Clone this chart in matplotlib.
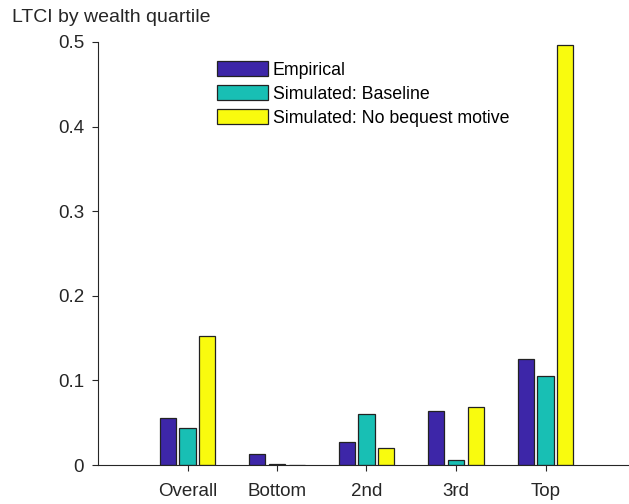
import matplotlib
matplotlib.use("Agg")
import matplotlib.pyplot as plt
import numpy as np
from matplotlib.ticker import FormatStrFormatter

plt.rcParams['font.family'] = ['Liberation Sans', 'DejaVu Sans']

# data
groups = ['Overall', 'Bottom', '2nd', '3rd', 'Top']
empirical = [0.056, 0.0126, 0.0268, 0.0634, 0.125]
baseline = [0.0434, 0.001, 0.0603, 0.0059, 0.1048]
no_bequest = [0.153, 0.0005, 0.0205, 0.069, 0.497]
series = ['Empirical', 'Simulated: Baseline', 'Simulated: No bequest motive']
colors = ['#3D26A8', '#18BFB4', '#F9FB0E']

fig = plt.figure(figsize=(6.29, 5.04), dpi=100)
ax = fig.add_axes([98 / 629, 39 / 504, 531 / 629, 423 / 504])

x = np.arange(1, len(groups) + 1)
width = 0.18
offset = 0.22
for i, (vals, lab, col) in enumerate(zip([empirical, baseline, no_bequest], series, colors)):
    ax.bar(x + (i - 1) * offset, vals, width, color=col, edgecolor='#222222',
           linewidth=0.9, label=lab)

ax.set_xlim(0, 531 / 89.5)
ax.set_ylim(0, 0.5)
ax.set_xticks(x)
ax.set_xticklabels(groups)
ax.set_yticks(np.arange(0, 0.51, 0.1))
ax.yaxis.set_major_formatter(FormatStrFormatter('%g'))
ax.tick_params(direction='out', length=4, width=0.8, labelsize=13.5, colors='#262626', pad=6)
ax.tick_params(axis='x', pad=9)
for s in ['top', 'right']:
    ax.spines[s].set_visible(False)
for s in ['left', 'bottom']:
    ax.spines[s].set_color('#262626')
    ax.spines[s].set_linewidth(0.8)

fig.text(12 / 629, 1 - 18 / 504, 'LTCI by wealth quartile', fontsize=14,
         ha='left', va='center', color='#262626')

ax.legend(loc='upper left', bbox_to_anchor=(217 / 629, 1 - 61 / 504),
          bbox_transform=fig.transFigure, frameon=False, fontsize=12.8,
          handlelength=2.87, handleheight=0.95, handletextpad=0.28,
          labelspacing=0.35, borderpad=0, borderaxespad=0)

fig.savefig('out.png', dpi=100)
